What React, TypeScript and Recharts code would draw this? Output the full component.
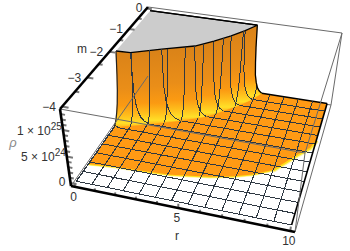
import React from "react";
import { ComposedChart, Scatter, XAxis, YAxis } from "recharts";

const W = 350;
const H = 251;

// mesh of the surface
const mMesh = [0, -0.308, -0.615, -0.923, -1.231, -1.538, -1.846, -2.154, -2.462, -2.769, -3.077, -3.385, -3.692, -4];
const mLineStartR = [6.45, 6.09, 5.55, 4.9, 4.2, 3.0, 1.6, 0.25, 0, 0, 0, 0, 0, 0];
const rMesh = [0, 0.769, 1.538, 2.308, 3.077, 3.846, 4.615, 5.385, 6.154, 6.923, 7.692, 8.462, 9.231, 10];
const rLineEndM = [-2.15, -2.03, -1.86, -1.69, -1.52, -1.27, -1.05, -0.69, -0.27, 0, 0, 0, 0, 0];

// the steep wall, in units of 1e25: r where each m line crosses each rho level
const rhoLevels = [1.36, 0.9, 0.6, 0.35, 0.2, 0.1, 0.04, 0];
const wallM = [0, -0.308, -0.615, -0.923, -1.231, -1.538, -1.846];
const wallR = [
  [5.9, 5.93, 5.97, 6.02, 6.1, 6.19, 6.3, 6.45],
  [5.45, 5.49, 5.53, 5.59, 5.68, 5.78, 5.91, 6.09],
  [4.92, 4.96, 5.0, 5.06, 5.15, 5.25, 5.37, 5.55],
  [4.25, 4.29, 4.33, 4.39, 4.48, 4.59, 4.72, 4.9],
  [3.5, 3.54, 3.58, 3.65, 3.75, 3.86, 4.0, 4.2],
  [2.05, 2.11, 2.16, 2.26, 2.39, 2.54, 2.73, 3.0],
  [0.73, 0.78, 0.83, 0.92, 1.04, 1.18, 1.36, 1.6],
];
const wallEdgeM = [-1.87, -1.88, -1.9, -1.94, -1.99, -2.04, -2.09, -2.15]; // r = 0 edge

// m where each r line crosses each rho level
const wallLineR = [0.769, 1.538, 2.308, 3.077, 3.846, 4.615, 5.385];
const wallLineM = [
  [-1.84, -1.85, -1.86, -1.88, -1.91, -1.94, -1.98, -2.03],
  [-1.66, -1.67, -1.68, -1.7, -1.73, -1.76, -1.8, -1.86],
  [-1.485, -1.5, -1.51, -1.53, -1.56, -1.59, -1.63, -1.69],
  [-1.32, -1.33, -1.34, -1.36, -1.39, -1.42, -1.46, -1.52],
  [-1.09, -1.1, -1.11, -1.13, -1.15, -1.18, -1.22, -1.27],
  [-0.755, -0.77, -0.79, -0.82, -0.86, -0.91, -0.97, -1.05],
  [-0.346, -0.37, -0.39, -0.42, -0.47, -0.53, -0.59, -0.69],
];
// the last r line only climbs the foot of the wall
const footLineM = [0, -0.05, -0.12, -0.27];
const footLineRho = [0.14, 0.1, 0.04, 0];
const footLineR = 6.154;
// same for the first m line that starts on the r = 0 edge
const lowLineR = [0, 0.08, 0.25];
const lowLineRho = [0.05, 0.03, 0];
const lowLineM = -2.154;

// lower edge of the orange part, below it the surface is clipped away
const edgeR = [0, 1.3, 2.6, 4, 5.8, 6.8, 7.6, 8.45, 9.3, 9.8, 10];
const edgeM = [-3.45, -3.38, -3.35, -3.3, -3.14, -3.0, -2.85, -2.6, -2.0, -1.7, -1.4];

const rTicks = [0, 1, 2, 3, 4, 5, 6, 7, 8, 9, 10];
const rLabels = ["0", "", "", "", "", "5", "", "", "", "", "10"];
const mTicks = [0, -0.5, -1, -1.5, -2, -2.5, -3, -3.5, -4];
const mLabels = ["", "", "\u22121", "", "\u22122", "", "\u22123", "", "\u22124"];
const rhoTicks = [0, 0.1, 0.2, 0.3, 0.4, 0.5, 0.6, 0.7, 0.8, 0.9, 1, 1.1, 1.2, 1.3];

// box of the plot and the way it sits on the page
const R0 = -0.2, R1 = 10.2, M0 = -4.08, M1 = 0.08, Z0 = -0.056, Z1 = 1.396;
type P = [number, number];
const floorQuad: P[] = [[71, 186], [295, 232], [331, 105], [148, 76]];
const topQuad: P[] = [[60, 109], [305, 153], [342, 33], [148, 7]];

function quadMap(q: P[]) {
  const [[x0, y0], [x1, y1], [x2, y2], [x3, y3]] = q;
  const dx1 = x1 - x2, dx2 = x3 - x2, sx = x0 - x1 + x2 - x3;
  const dy1 = y1 - y2, dy2 = y3 - y2, sy = y0 - y1 + y2 - y3;
  const den = dx1 * dy2 - dx2 * dy1;
  const g = (sx * dy2 - dx2 * sy) / den;
  const h = (dx1 * sy - sx * dy1) / den;
  const a = x1 - x0 + g * x1, b = x3 - x0 + h * x3;
  const d = y1 - y0 + g * y1, e = y3 - y0 + h * y3;
  return (u: number, v: number): P => {
    const t = g * u + h * v + 1;
    return [(a * u + b * v + x0) / t, (d * u + e * v + y0) / t];
  };
}
const floorMap = quadMap(floorQuad);
const topMap = quadMap(topQuad);

function project(r: number, m: number, rho: number) {
  const u = (r - R0) / (R1 - R0);
  const v = (m - M0) / (M1 - M0);
  const z = (rho - Z0) / (Z1 - Z0);
  const a = floorMap(u, v);
  const b = topMap(u, v);
  return { x: a[0] + (b[0] - a[0]) * z, y: a[1] + (b[1] - a[1]) * z };
}

const MESH = "#2e3842";
const BOX = "#6a6a6a";
const font = "'Liberation Sans', Arial, sans-serif";

const noDot = () => null;
let n = 0;
function poly(pts: { x: number; y: number }[], stroke: string, width = 1, fill = "none", crisp = false) {
  n += 1;
  return (
    <Scatter
      key={n}
      data={pts}
      shape={noDot}
      line={{
        stroke,
        strokeWidth: width,
        fill,
        strokeLinejoin: "round",
        shapeRendering: crisp ? "crispEdges" : "auto",
      }}
      isAnimationActive={false}
    />
  );
}
const meshLine = (pts: { x: number; y: number }[], width = 1) => poly(pts, MESH, width, "none", true);

const edgePts = edgeR.map((r, i) => project(r, edgeM[i], 0));
const wallRow = (i: number) => rhoLevels.map((z, k) => project(wallR[i][k], wallM[i], z));
const edgeRow = rhoLevels.map((z, k) => project(0, wallEdgeM[k], z));
const strips = [...wallM.map((_, i) => wallRow(i)), edgeRow];
const topArc = strips.map((row) => row[0]);

const textLabels = [
  ...rTicks.map((r, i) => {
    const p = project(r, M0, Z0);
    return { x: p.x - 1.5, y: p.y + 10, text: rLabels[i], anchor: "middle" };
  }),
  ...mTicks.map((m, i) => {
    const p = project(R0, m, Z1);
    return { x: p.x - 13, y: p.y, text: mLabels[i], anchor: "middle" };
  }),
  { x: 139, y: 8, text: "0", anchor: "middle" },
  { x: 62, y: 182, text: "0", anchor: "middle" },
  { x: 82, y: 49, text: "m", anchor: "middle" },
  { x: 177, y: 236, text: "r", anchor: "middle" },
].filter((d) => d.text !== "");

const powerLabels = [
  { x: 17, y: 131, base: "1 \u00d7 10", exp: "25" },
  { x: 21, y: 157, base: "5 \u00d7 10", exp: "24" },
];

const drawText = (p: any) => (
  <text x={p.cx} y={p.cy} dy="0.36em" textAnchor={p.payload.anchor} fontFamily={font} fontSize={12} fill="#333">
    {p.payload.text}
  </text>
);
const drawPower = (p: any) => (
  <text x={p.cx} y={p.cy} dy="0.36em" fontFamily={font} fontSize={12} fill="#333">
    {p.payload.base}
    <tspan dy={-5} fontSize={10}>{p.payload.exp}</tspan>
  </text>
);
const drawRho = (p: any) => (
  <text
    x={p.cx}
    y={p.cy}
    dy="0.36em"
    textAnchor="middle"
    fontFamily={font}
    fontSize={13}
    fontStyle="italic"
    fill="#8a8a8a"
  >
    {"\u03c1"}
  </text>
);

export default function App() {
  n = 0;
  return (
    <div style={{ position: "absolute", left: 0, top: 0, width: W, height: H, background: "#fff" }}>
      <ComposedChart width={W} height={H} margin={{ top: 0, right: 0, bottom: 0, left: 0 }}>
        <defs>
          <linearGradient id="wall" x1="0" y1="0" x2="0" y2="1">
            <stop offset="0" stopColor="#d98218" />
            <stop offset="0.5" stopColor="#ea8e18" />
            <stop offset="0.72" stopColor="#fb9a12" />
            <stop offset="0.85" stopColor="#ffbe1c" />
            <stop offset="0.95" stopColor="#ffe028" />
            <stop offset="1" stopColor="#ffb81c" />
          </linearGradient>
        </defs>
        <XAxis type="number" dataKey="x" domain={[0, W]} hide />
        <YAxis type="number" dataKey="y" domain={[0, H]} reversed hide />

        {poly([project(R0, M1, Z0), project(R1, M1, Z0)], BOX)}
        {poly(edgePts, "#fff6a0", 3.4)}
        {poly(edgePts, "#ffdf18", 2)}
        {poly(edgePts.slice(-4), "#fff6a0", 6)}
        {poly(edgePts.slice(-4), "#ffdf18", 3.5)}
        {poly([...edgePts, project(10, 0, 0), project(0, 0, 0)], "none", 0, "#ff9a14")}

        {mMesh.map((m, i) =>
          m === 0
            ? poly([project(mLineStartR[i], m, 0), project(10, m, 0)], "#000", 1.4)
            : meshLine([project(mLineStartR[i], m, 0), project(10, m, 0)])
        )}
        {rMesh.map((r, i) =>
          r === 10
            ? poly([project(r, -4, 0), project(r, rLineEndM[i], 0)], "#000", 1.6)
            : meshLine([project(r, -4, 0), project(r, rLineEndM[i], 0)], r === 0 ? 1.3 : 1)
        )}

        {strips.slice(0, -1).map((row, i) =>
          poly([...row, ...[...strips[i + 1]].reverse()], "url(#wall)", 0.6, "url(#wall)")
        )}
        {poly([project(0, 0, 1.36), ...topArc], "#000", 1.3, "#cccccc")}
        {poly([project(0, 0, 1.36), topArc[0]], "#000", 1.3)}

        {wallM.slice(1).map((_, i) => meshLine(wallRow(i + 1)))}
        {wallLineR.map((r, i) => meshLine(rhoLevels.map((z, k) => project(r, wallLineM[i][k], z))))}
        {meshLine(footLineM.map((m, k) => project(footLineR, m, footLineRho[k])))}
        {meshLine(lowLineR.map((r, k) => project(r, lowLineM, lowLineRho[k])))}
        {poly(wallRow(0), "#000", 1.3)}
        {poly(edgeRow, "#222", 1.2)}

        {poly([project(R0, M0, Z0), project(R0, M1, Z0)], BOX)}
        {poly([project(R1, M0, Z0), project(R1, M1, Z0)], BOX)}
        {poly([project(R1, M0, Z0), project(R1, M0, Z1)], BOX)}
        {poly([project(R1, M1, Z0), project(R1, M1, Z1)], BOX)}
        {poly([project(R0, M0, Z1), project(R1, M0, Z1)], BOX)}
        {poly([project(R1, M0, Z1), project(R1, M1, Z1)], BOX)}
        {poly([project(R0, M1, Z1), project(R1, M1, Z1)], BOX)}

        {rTicks.map((r) => poly([project(r, M0, Z0), project(r, M0, Z0 + (r % 5 === 0 ? 0.08 : 0.05))], "#777", 2))}
        {mTicks.map((m) => poly([project(R0, m, Z1), project(R0 + (m % 1 === 0 ? 0.3 : 0.2), m, Z1)], "#777", 2))}
        {rhoTicks.map((z) => poly([project(R0, M0, z), project(R0 + (z % 0.5 === 0 ? 0.3 : 0.2), M0, z)], "#777", 2))}

        {poly([project(R0, M0, Z0), project(R1, M0, Z0)], "#000", 2.6)}
        {poly([project(R0, M0, Z0), project(R0, M0, Z1)], "#000", 2.6)}
        {poly([project(R0, M0, Z1), project(R0, M1, Z1)], "#000", 2.6)}

        <Scatter data={textLabels} shape={drawText} isAnimationActive={false} />
        <Scatter data={powerLabels} shape={drawPower} isAnimationActive={false} />
        <Scatter data={[{ x: 13, y: 142 }]} shape={drawRho} isAnimationActive={false} />
      </ComposedChart>
    </div>
  );
}
